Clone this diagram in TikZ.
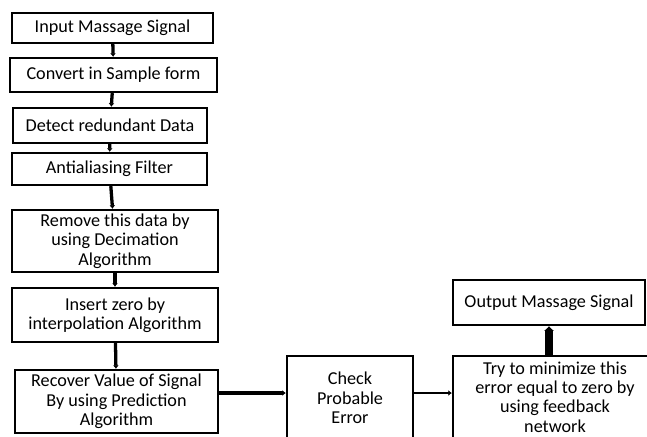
\documentclass[tikz,border=0pt]{standalone}
\usepackage{fontspec}
\setmainfont{Carlito}
\usetikzlibrary{arrows.meta,calc}

\tikzset{
  blk/.style={draw, line width=2pt, align=center, inner sep=0pt,
    font=\fontsize{15.5}{16.5}\selectfont},
  flow/.style={line width=2.8pt, -{Latex[length=3pt,width=5pt]}}
}

\begin{document}
\begin{tikzpicture}[x=0.03cm,y=-0.03cm]
        \useasboundingbox (0,0) rectangle (647,436);
        \clip (0,0) rectangle (647,436);
        % left column
        \node[blk, minimum width=201*0.03cm, minimum height=30*0.03cm] (inp) at (112.5,28) {Input Massage Signal};
        \node[blk, minimum width=207*0.03cm, minimum height=34*0.03cm] (conv) at (113.5,75) {Convert in Sample form};
        \node[blk, minimum width=194*0.03cm, minimum height=35*0.03cm] (detect) at (110,125.5) {Detect redundant Data};
        \node[blk, minimum width=195*0.03cm, minimum height=32*0.03cm] (filt) at (109.5,169) {Antialiasing Filter};
        \node[blk, minimum width=206*0.03cm, minimum height=62*0.03cm] (decim) at (115,241) {Remove this data by\\using Decimation\\Algorithm};
        \node[blk, minimum width=206*0.03cm, minimum height=54*0.03cm] (interp) at (115,315) {Insert zero by\\interpolation Algorithm};
        \node[blk, minimum width=203*0.03cm, minimum height=63*0.03cm] (recov) at (116.5,401.5) {Recover Value of Signal\\By using Prediction\\Algorithm};
        % bottom row
        \node[blk, minimum width=126*0.03cm, minimum height=84*0.03cm] (check) at (350,398) {Check\\Probable\\Error};
        \node[blk, minimum width=204*0.03cm, minimum height=82*0.03cm] (minim) at (555,397) {Try to minimize this\\error equal to zero by\\using feedback\\network};
        \node[blk, minimum width=192*0.03cm, minimum height=45*0.03cm] (outp) at (549,302.5) {Output Massage Signal};
        % connectors
        \draw[flow] (inp) -- (conv);
        \draw[flow] (conv) -- (detect);
        \draw[flow] (detect) -- (filt);
        \draw[flow] (filt) -- (decim);
        \draw[flow] (decim) -- (interp);
        \draw[flow] (interp) -- (recov);
        \draw[flow, line width=3.2pt] ($(recov.east)+(0,-8.5)$) -- ($(check.west)+(0,-5)$);
        \draw[flow, line width=1.8pt] ($(check.east)+(0,-5)$) -- ($(minim.west)+(0,-4)$);
        \draw[line width=6pt, -{Latex[length=4pt,width=9pt]}] (minim.north -| outp.south) -- (outp.south);
\end{tikzpicture}
\end{document}
